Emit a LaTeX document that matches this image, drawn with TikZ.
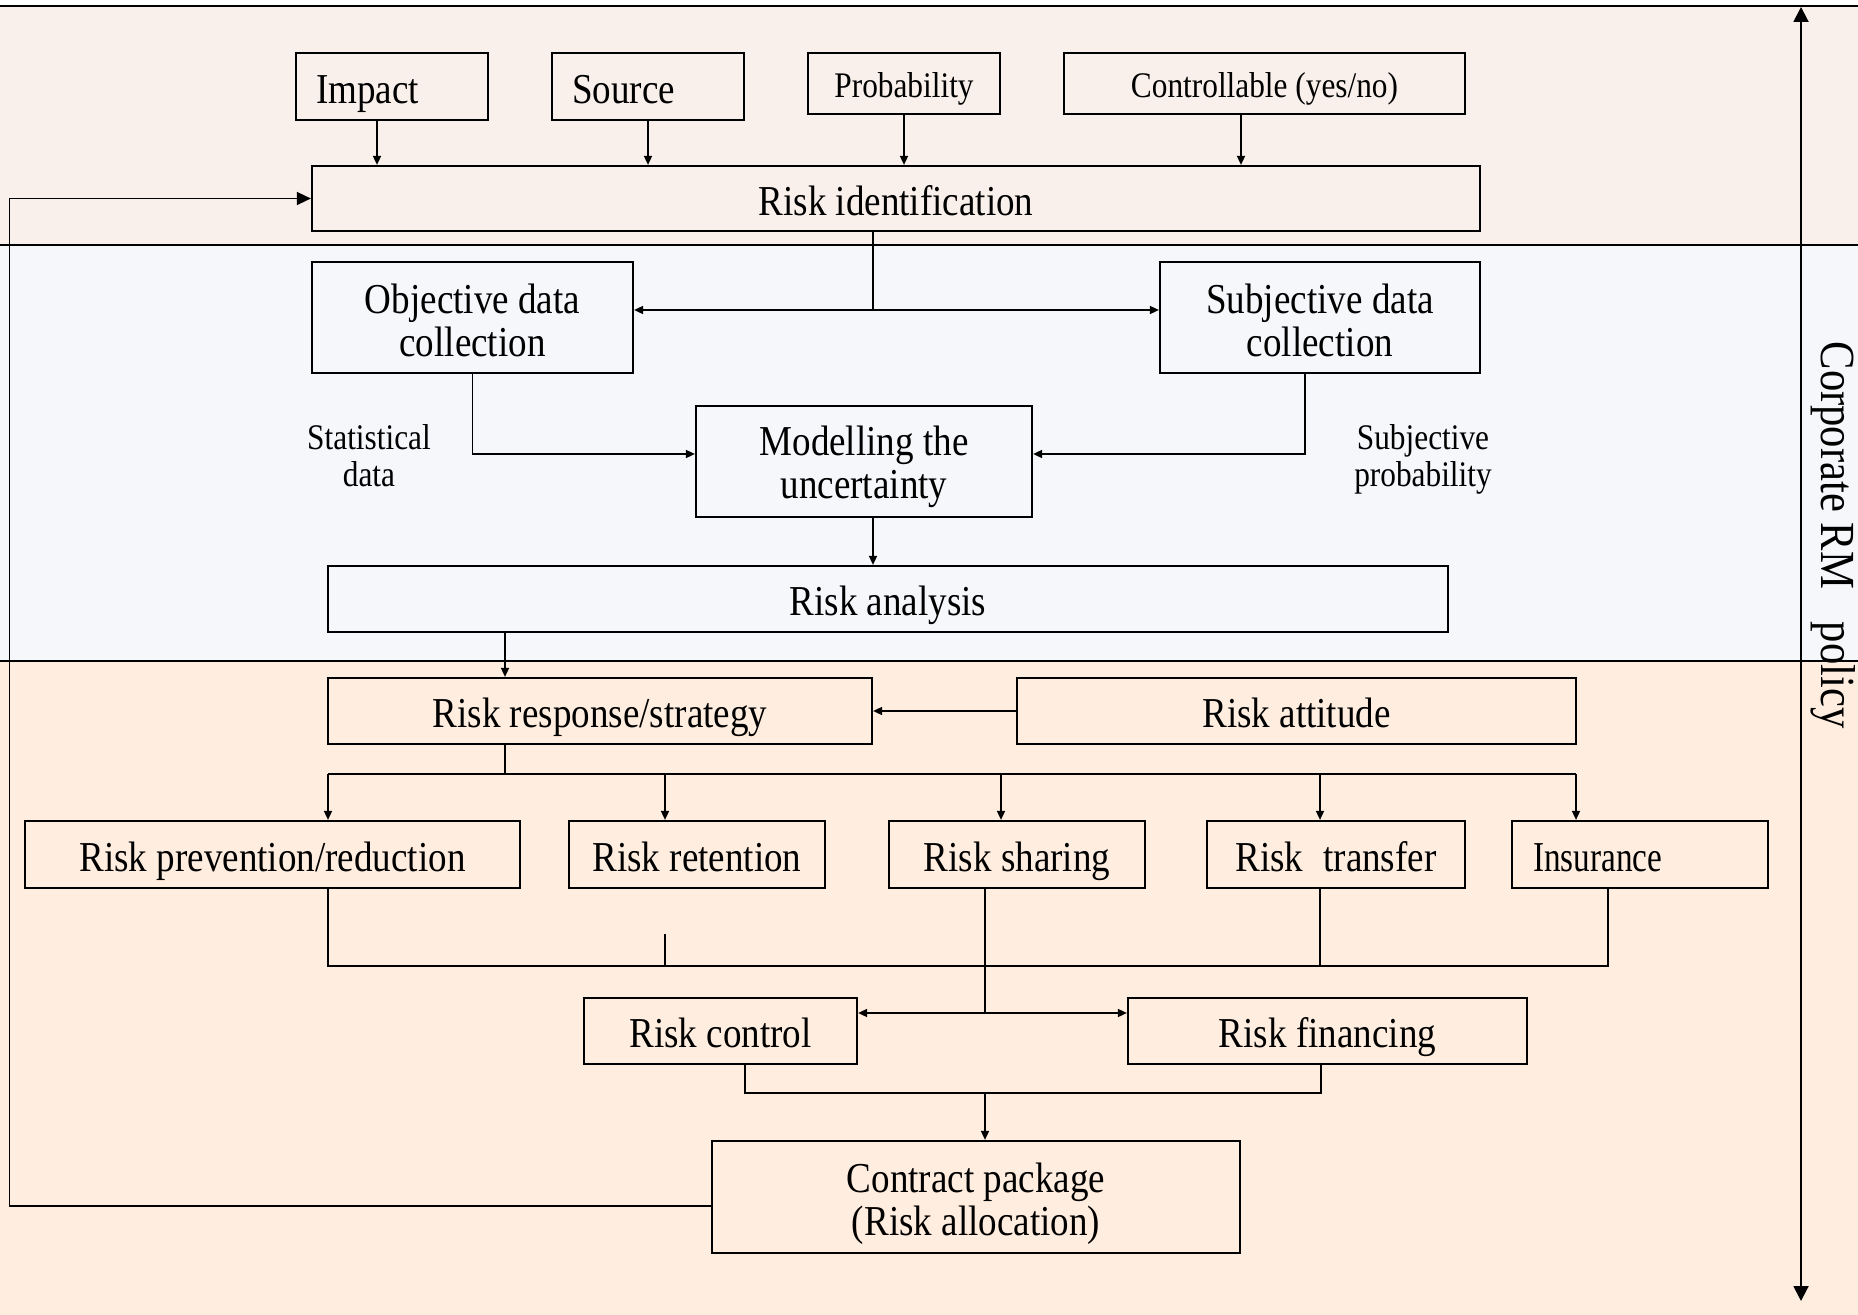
\documentclass[tikz,border=0pt]{standalone}
\usepackage{fontspec}
\setmainfont{Liberation Serif}[FakeStretch=0.87]
\newfontfamily\narrowserif{Liberation Serif}[FakeStretch=0.78]
\usetikzlibrary{arrows.meta,calc}

\definecolor{bandtop}{RGB}{250,240,235}
\definecolor{bandmid}{RGB}{245,247,251}
\definecolor{bandlow}{RGB}{255,238,224}

\newcommand\boxfont{\fontsize{21.3pt}{21.5pt}\selectfont}
\newcommand\notefont{\fontsize{18pt}{18.4pt}\selectfont}
\newcommand\axisfont{\fontsize{24.5pt}{25pt}\selectfont}
% raises the first line of a two-line box so both lines sit a little lower
\newcommand\firstline{\rule{0pt}{20pt}}

\begin{document}
\begin{tikzpicture}[x=0.5pt,y=-0.5pt,
  frame/.style={draw, line width=1.1pt, inner sep=0pt, align=center, font=\boxfont},
  box/.style={frame, text height=16.8pt, text depth=0pt},
  smallbox/.style={frame, font=\notefont, text height=13.6pt, text depth=0pt},
  sz/.style 2 args={minimum width=#1*0.5pt, minimum height=#2*0.5pt},
  note/.style={align=center, font=\notefont, inner sep=0pt},
  link/.style={line width=0.8pt},
  arr/.style={link, -{Triangle[length=4.5pt,width=4pt]}},
  dbl/.style={link, {Triangle[length=4.5pt,width=4pt]}-{Triangle[length=4.5pt,width=4pt]}},
  bigarr/.style={link, -{Triangle[length=7pt,width=6.5pt]}},
  axisarr/.style={line width=1pt, {Triangle[length=7.5pt,width=7.5pt]}-{Triangle[length=7.5pt,width=7.5pt]}},
  rule/.style={line width=1pt}
]
\useasboundingbox (0,0) rectangle (1858,1315);

% background bands
\fill[bandtop] (0,6) rectangle (1858,245);
\fill[bandmid] (0,245) rectangle (1858,661);
\fill[bandlow] (0,661) rectangle (1858,1315);
\draw[rule] (0,6) -- (1858,6);
\draw[rule] (0,245) -- (1858,245);
\draw[rule] (0,661) -- (1858,661);

% policy axis
\coordinate (axtop) at (1801,7);
\coordinate (axbot) at (1801,1301);
\draw[axisarr] (axtop) -- (axbot);
\node[rotate=-90, font=\axisfont, inner sep=0pt] (policy) at (1833,535) {Corporate RM\hspace{0.45em} policy};

% identification stage
\node[box, sz={192}{67}, text width=76pt, align=left] (impact) at (392,86.5) {Impact};
\node[box, sz={192}{67}, text width=76pt, align=left] (source) at (648,86.5) {Source};
\node[smallbox, sz={192}{61}] (prob) at (904,83.5) {Probability};
\node[smallbox, sz={401}{61}] (ctrl) at (1264.5,83.5) {Controllable (yes/no)};
\node[box, sz={1168}{65}] (riskid) at (896,198.5) {Risk identification};

\draw[arr] ([xshift=-7.5pt]impact.south) -- ([xshift=-7.5pt]impact.south |- riskid.north);
\draw[arr] (source.south) -- (source.south |- riskid.north);
\draw[arr] (prob.south) -- (prob.south |- riskid.north);
\draw[arr] ([xshift=-11.75pt]ctrl.south) -- ([xshift=-11.75pt]ctrl.south |- riskid.north);

% analysis stage
\node[frame, sz={321}{111}] (obj) at (472.5,317.5) {\rule{0pt}{18pt}Objective data\\collection};
\node[frame, sz={320}{111}] (subj) at (1320,317.5) {\rule{0pt}{18pt}Subjective data\\collection};
\node[frame, sz={336}{111}] (model) at (864,461.5) {\firstline Modelling the\\uncertainty};
\node[box, sz={1120}{66}] (analysis) at (888,599) {Risk analysis};
\node[note] (stat) at (369,456) {Statistical\\data};
\node[note] (subprob) at (1423,459) {Subjective\\probability};

\coordinate (split) at (873,310);
\draw[link] (riskid.south -| split) -- (split);
\draw[arr] (split) -- (split -| obj.east);
\draw[arr] (split) -- (split -| subj.west);
\draw[arr] (obj.south) |- ([yshift=3.75pt]model.west);
\draw[arr] ([xshift=-7.5pt]subj.south) |- ([yshift=3.75pt]model.east);
\draw[arr] ([xshift=4.5pt]model.south) -- ([xshift=4.5pt]model.south |- analysis.north);

% response stage
\node[box, sz={544}{66}] (response) at (600,711) {Risk response/strategy};
\node[box, sz={559}{66}] (attitude) at (1296.5,711) {Risk attitude};
\coordinate (xr) at (505,0);
\draw[arr] (analysis.south -| xr) -- (response.north -| xr);
\draw[arr] (attitude.west) -- (response.east);

\node[box, sz={495}{67}] (prevent) at (272.5,854.5) {Risk prevention/reduction};
\node[box, sz={256}{67}] (retain) at (697,854.5) {Risk retention};
\node[box, sz={256}{67}] (share) at (1017,854.5) {Risk sharing};
\node[box, sz={258}{67}] (transfer) at (1336,854.5) {Risk\hspace{0.25em} transfer};
\node[box, sz={256}{67}, text width=107pt, align=left, font=\boxfont\narrowserif] (insure) at (1640,854.5) {Insurance};

\coordinate (branch) at (505,774);
\coordinate (b1) at (328,774);
\coordinate (b2) at (665,774);
\coordinate (b3) at (1001,774);
\coordinate (b4) at (1320,774);
\coordinate (b5) at (1576,774);
\draw[link] (response.south -| branch) -- (branch);
\draw[link] (b1) -- (b5);
\draw[arr] (b1) -- (b1 |- prevent.north);
\draw[arr] (b2) -- (b2 |- retain.north);
\draw[arr] (b3) -- (b3 |- share.north);
\draw[arr] (b4) -- (b4 |- transfer.north);
\draw[arr] (b5) -- (b5 |- insure.north);

% collecting the responses
\coordinate (c1) at (328,966);
\coordinate (c2) at (665,966);
\coordinate (c3) at (985,1013);
\coordinate (c4) at (1320,966);
\coordinate (c5) at (1608,966);
\coordinate (tick) at (665,934);
\draw[link] (prevent.south -| c1) -- (c1) -- (c5) -- (insure.south -| c5);
\draw[link] (tick) -- (c2);
\draw[link] (transfer.south -| c4) -- (c4);
\draw[link] (share.south -| c3) -- (c3);

\node[box, sz={273}{66}] (control) at (720.5,1031) {Risk control};
\node[box, sz={399}{66}] (finance) at (1327.5,1031) {Risk financing};
\draw[dbl] (c3 -| control.east) -- (c3 -| finance.west);

% contract package
\node[frame, sz={528}{112}] (contract) at (976,1197) {\rule{0pt}{21.5pt}Contract package\\(Risk allocation)};
\coordinate (m1) at (745,1093);
\coordinate (m2) at (1321,1093);
\coordinate (m3) at (985,1093);
\draw[link] (control.south -| m1) -- (m1) -- (m2) -- (finance.south -| m2);
\draw[arr] (m3) -- (m3 |- contract.north);

% feedback loop
\coordinate (fb) at (9.5,0);
\draw[bigarr] ([yshift=-4.5pt]contract.west) -| (fb |- riskid.west) -- (riskid.west);
\end{tikzpicture}
\end{document}
